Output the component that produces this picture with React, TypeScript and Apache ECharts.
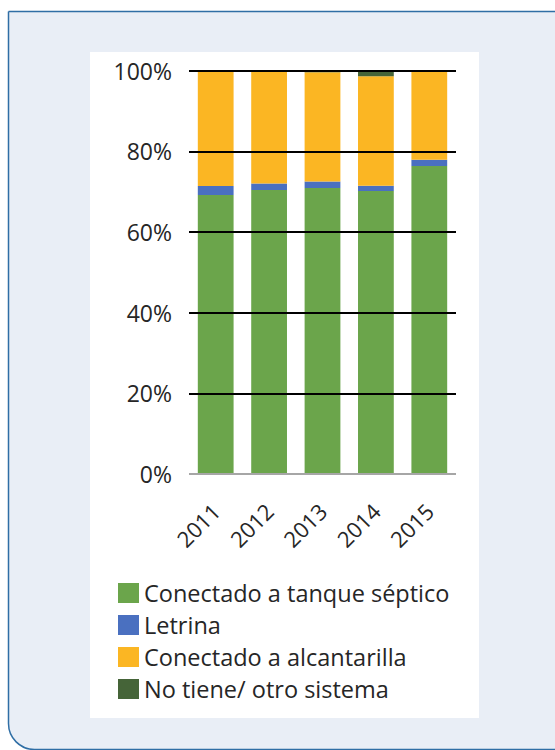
import React, { useEffect, useRef } from "react";
import * as echarts from "echarts";

const years = ["2011", "2012", "2013", "2014", "2015"];
const septico = [69.2, 70.4, 70.9, 70.2, 76.4];
const letrina = [2.2, 1.6, 1.6, 1.3, 1.5];
const alcantarilla = [28.3, 27.7, 27.1, 27.1, 21.9];
const noTiene = [0.3, 0.3, 0.4, 1.4, 0.2];
const seriesNames = [
  "Conectado a tanque séptico",
  "Letrina",
  "Conectado a alcantarilla",
  "No tiene/ otro sistema",
];
const colors = ["#6ba54b", "#4a70c0", "#fbb623", "#456438"];

const FONT = "'Open Sans', 'Noto Sans', sans-serif";

export default function App() {
  const ref = useRef<HTMLDivElement>(null);
  useEffect(() => {
    if (!ref.current) return;
    const chart = echarts.init(ref.current, null, { renderer: "svg" });
    const data = [septico, letrina, alcantarilla, noTiene];
    chart.setOption({
      animation: false,
      backgroundColor: "#ffffff",
      graphic: [
        {
          type: "rect",
          z: -10,
          silent: true,
          shape: { x: 8.5, y: 11.5, width: 600, height: 738, r: [0, 0, 0, 26] },
          style: { fill: "#e9eef6", stroke: "#2f6ea5", lineWidth: 1.5 },
        },
        {
          type: "rect",
          z: -9,
          silent: true,
          shape: { x: 90, y: 52, width: 389, height: 666 },
          style: { fill: "#ffffff" },
        },
      ],
      grid: { left: 189, right: 99, top: 70.7, bottom: 276, containLabel: false },
      legend: {
        orient: "vertical",
        left: 118,
        top: 581,
        padding: 0,
        icon: "rect",
        itemWidth: 21,
        itemHeight: 20,
        itemGap: 8,
        data: seriesNames,
        textStyle: { fontSize: 23.5, color: "#262626", fontFamily: FONT, padding: [0, 0, 0, 0] },
      },
      xAxis: {
        type: "category",
        data: years,
        axisLine: { show: false },
        axisTick: { show: false },
        axisLabel: {
          rotate: 45,
          margin: 33,
          fontSize: 22,
          color: "#262626",
          fontFamily: FONT,
        },
      },
      yAxis: {
        type: "value",
        min: 0,
        max: 100,
        interval: 20,
        z: 5,
        axisLine: { show: false },
        axisTick: { show: false },
        axisLabel: {
          formatter: "{value}%",
          fontSize: 23,
          color: "#262626",
          fontFamily: FONT,
          margin: 17,
        },
        splitLine: {
          show: true,
          lineStyle: {
            color: ["#a6a6a6", "#000000", "#000000", "#000000", "#000000", "#000000"],
            width: 2,
          },
        },
      },
      series: seriesNames.map((name, i) => ({
        name,
        type: "bar",
        stack: "total",
        barCategoryGap: "33%",
        itemStyle: { color: colors[i] },
        data: data[i],
      })),
    });
    return () => chart.dispose();
  }, []);
  return (
    <div
      ref={ref}
      style={{ position: "absolute", left: 0, top: 0, width: 555, height: 750 }}
    />
  );
}
